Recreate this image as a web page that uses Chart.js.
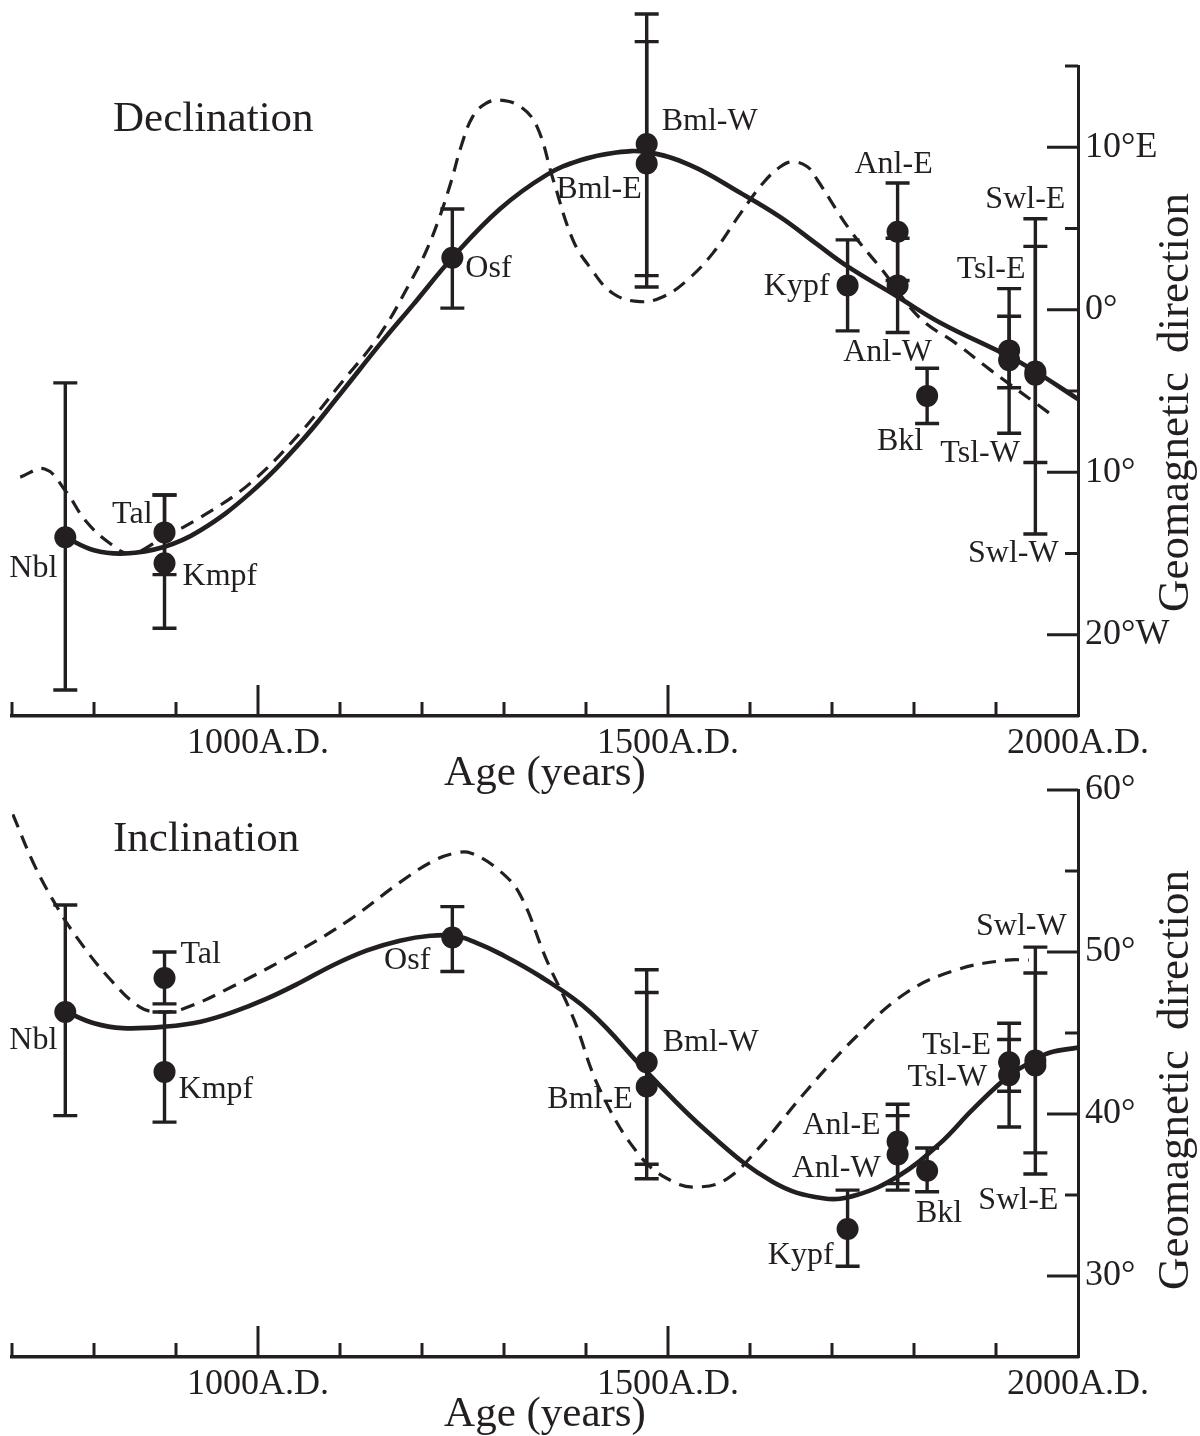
<!DOCTYPE html>
<html>
<head>
<meta charset="utf-8">
<script src="https://cdn.jsdelivr.net/npm/chart.js@4/dist/chart.umd.min.js"></script>
<style>
  html, body { margin: 0; padding: 0; background: #ffffff; overflow: hidden; }
  #wrap { position: relative; width: 1200px; height: 1436px; }
  .panel { position: absolute; left: 0; width: 1200px; }
</style>
</head>
<body>
<div id="wrap">
  <div class="panel" style="top:0;height:800px"><canvas id="decChart" width="1200" height="800"></canvas></div>
  <div class="panel" style="top:755px;height:681px"><canvas id="incChart" width="1200" height="681"></canvas></div>
</div>
<script>
// ---------------- DATA ----------------
const sites = ['Nbl', 'Tal', 'Kmpf', 'Osf', 'Bml-W', 'Bml-E', 'Kypf', 'Anl-E', 'Anl-W', 'Bkl', 'Tsl-E', 'Tsl-W', 'Swl-E', 'Swl-W'];
const siteYears = [765, 886, 886, 1237, 1474, 1474, 1719, 1780, 1780, 1816, 1916, 1916, 1948, 1948];

// Declination (deg, east positive)
const decValues = [-14.0, -13.7, -15.6, 3.2, 10.2, 9.0, 1.5, 4.8, 1.5, -5.3, -2.5, -3.1, -3.8, -4.0];
const decLow    = [-23.4, -16.3, -19.6, 0.1, 2.1, 1.4, -1.3, 1.8, -1.4, -7.0, -4.8, -7.6, -13.8, -9.4];
const decHigh   = [-4.5, -11.4, -11.4, 6.2, 18.2, 16.5, 4.3, 7.8, 4.4, -3.6, 1.3, -0.4, 5.6, 3.9];

// Inclination (deg)
const incValues = [46.3, 48.4, 42.6, 50.9, 43.2, 41.7, 32.9, 38.3, 37.5, 36.5, 43.2, 42.4, 43.0, 43.3];
const incLow    = [39.9, 46.8, 39.5, 48.8, 36.9, 36.0, 30.6, 35.7, 35.3, 35.2, 41.4, 39.2, 37.6, 36.3];
const incHigh   = [52.9, 50.0, 46.3, 52.8, 48.9, 47.5, 35.3, 40.6, 39.9, 37.9, 45.6, 44.6, 48.7, 50.3];

// Smoothed curve (solid) and reference curve (dashed)
const decSolidYears = [765, 800, 838, 885, 929, 990, 1051, 1100, 1149, 1189, 1237, 1295, 1352, 1393, 1433, 1474, 1527, 1588, 1637, 1680, 1718, 1780, 1832, 1913, 1945, 2000];
const decSolid      = [-14.0, -14.8, -15.0, -14.6, -13.6, -11.3, -8.2, -5.2, -2.1, 0.3, 3.2, 6.2, 8.3, 9.2, 9.65, 9.7, 8.9, 7.2, 5.7, 4.1, 2.7, 0.8, -0.8, -2.8, -3.7, -5.5];
const decDashedYears = [710, 740, 766, 790, 820, 845, 885, 929, 990, 1051, 1100, 1149, 1189, 1205, 1220, 1235, 1248, 1262, 1278, 1295, 1320, 1340, 1360, 1384, 1405, 1433, 1466, 1494, 1523, 1555, 1588, 1616, 1637, 1652, 1670, 1682, 1722, 1762, 1807, 1852, 1893, 1966];
const decDashed      = [-10.3, -9.8, -11.2, -13.0, -14.4, -15.0, -14.0, -12.8, -10.7, -7.6, -4.6, -1.5, 2.0, 3.6, 5.5, 7.8, 10.1, 11.9, 12.7, 12.9, 12.5, 11.3, 8.0, 4.3, 2.6, 1.0, 0.5, 0.8, 1.8, 3.5, 5.9, 7.8, 8.8, 9.1, 8.8, 8.0, 4.9, 2.4, -0.5, -2.1, -3.7, -6.4];

const incSolidYears = [766, 800, 835, 888, 930, 970, 1010, 1051, 1092, 1133, 1173, 1210, 1240, 1265, 1295, 1344, 1405, 1474, 1548, 1628, 1689, 1730, 1782, 1832, 1872, 1917, 1950, 1966, 2000];
const incSolid      = [46.3, 45.6, 45.3, 45.4, 45.7, 46.3, 47.1, 48.1, 49.2, 50.1, 50.7, 51.0, 51.0, 50.6, 49.9, 48.5, 46.3, 42.6, 38.9, 35.8, 34.8, 35.0, 36.2, 38.2, 40.3, 42.4, 43.4, 43.8, 44.1];
const incDashedYears = [701, 726, 750, 779, 820, 856, 880, 909, 970, 1051, 1112, 1173, 1213, 1240, 1260, 1295, 1320, 1352, 1384, 1417, 1466, 1507, 1539, 1572, 1609, 1670, 1730, 1791, 1852, 1913, 1940];
const incDashed      = [58.5, 55.5, 53.2, 50.9, 48.3, 46.6, 46.3, 46.5, 47.9, 50.1, 52.0, 54.3, 55.6, 56.1, 56.1, 55.0, 53.5, 49.5, 46.0, 41.5, 37.4, 35.8, 35.5, 36.0, 37.8, 41.5, 44.8, 47.5, 48.9, 49.5, 49.5];

// Tick labels
const xTickLabels = { 1000: '1000A.D.', 1500: '1500A.D.', 2000: '2000A.D.' };
const decTickLabels = { 10: '10°E', 0: '0°', '-10': '10°', '-20': '20°W' };
const incTickLabels = { 60: '60°', 50: '50°', 40: '40°', 30: '30°' };

// ---------------- STYLE ----------------
const INK = '#231f20';
const SERIF = '"Liberation Serif", "Times New Roman", Times, serif';

// label placement (pixel offsets from the point, text alignment) — styling only
const decLabelPlace = [
  ['right', -8, 31], ['right', -12, -18], ['left', 18, 13], ['left', 13, 11],
  ['left', 15, -22], ['right', -5, 26], ['right', -18, 1], ['center', -4, -67],
  ['center', -10, 67], ['center', -27, 46], ['center', -18, -81], ['center', -29, 93],
  ['center', -10, -172], ['center', -22, 179]
];
const incLabelPlace = [
  ['right', -8, 29], ['left', 16, -23], ['left', 14, 18], ['right', -22, 23],
  ['left', 16, -20], ['right', -14, 13], ['right', -14, 27], ['right', -17, -16],
  ['right', -17, 14], ['center', 12, 43], ['right', -18, -17], ['right', -22, 2],
  ['center', -17, 135], ['center', -14, -134]
];

function pairs(xs, ys) { return xs.map((x, i) => ({ x: x, y: ys[i] })); }

function buildChart(canvasId, spec) {
  const deco = {
    id: 'deco_' + canvasId,
    beforeDatasetsDraw(chart) {
      const ctx = chart.ctx, xs = chart.scales.x, ys = chart.scales.y;
      ctx.save();
      ctx.strokeStyle = INK;
      ctx.lineWidth = 3.4;
      ctx.lineCap = 'butt';
      for (let i = 0; i < sites.length; i++) {
        const px = xs.getPixelForValue(siteYears[i]);
        const pl = ys.getPixelForValue(spec.low[i]);
        const ph = ys.getPixelForValue(spec.high[i]);
        ctx.beginPath();
        ctx.moveTo(px, pl); ctx.lineTo(px, ph);
        ctx.moveTo(px - 12, pl); ctx.lineTo(px + 12, pl);
        ctx.moveTo(px - 12, ph); ctx.lineTo(px + 12, ph);
        ctx.stroke();
      }
      ctx.restore();
    },
    afterDraw(chart) {
      const ctx = chart.ctx, xs = chart.scales.x, ys = chart.scales.y, area = chart.chartArea;
      ctx.save();
      ctx.strokeStyle = INK;
      ctx.fillStyle = INK;
      ctx.lineWidth = 3;
      // inward x ticks
      xs.ticks.forEach(t => {
        if (t.value >= xs.max) return;
        const px = xs.getPixelForValue(t.value);
        const len = (t.value % 500 === 0) ? 31 : 14;
        ctx.beginPath();
        ctx.moveTo(px, area.bottom); ctx.lineTo(px, area.bottom - len);
        ctx.stroke();
      });
      // inward y ticks
      ys.ticks.forEach(t => {
        if (t.value <= ys.min) return;
        const py = ys.getPixelForValue(t.value);
        const len = (t.value % 10 === 0) ? 31 : 13;
        ctx.beginPath();
        ctx.moveTo(area.right, py); ctx.lineTo(area.right - len, py);
        ctx.stroke();
      });
      // site labels
      ctx.font = '32px ' + SERIF;
      ctx.textBaseline = 'middle';
      for (let i = 0; i < sites.length; i++) {
        const p = spec.place[i];
        const px = xs.getPixelForValue(siteYears[i]);
        const py = ys.getPixelForValue(spec.values[i]);
        ctx.textAlign = p[0];
        ctx.fillText(sites[i], px + p[1], py + p[2]);
      }
      // panel title
      ctx.font = '43px ' + SERIF;
      ctx.textAlign = 'left';
      ctx.textBaseline = 'alphabetic';
      ctx.fillText(spec.title, 113, spec.titleBaseline);
      // rotated axis title (two words, reading bottom to top)
      ctx.translate(1188, 0);
      ctx.rotate(-Math.PI / 2);
      ctx.font = '45px ' + SERIF;
      ctx.textBaseline = 'alphabetic';
      ctx.textAlign = 'left';
      ctx.fillText('Geomagnetic', -spec.yTitleStart, 0);
      ctx.textAlign = 'right';
      ctx.fillText('direction', -spec.yTitleEnd, 0);
      ctx.restore();
    }
  };

  return new Chart(document.getElementById(canvasId), {
    type: 'scatter',
    data: {
      datasets: [
        { type: 'line', label: 'solid', data: pairs(spec.solidYears, spec.solid), borderColor: INK, borderWidth: 4.6,
          pointRadius: 0, tension: 0.4, fill: false, order: 3 },
        { type: 'line', label: 'dashed', data: pairs(spec.dashedYears, spec.dashed), borderColor: INK, borderWidth: 3.2,
          borderDash: [14, 9], pointRadius: 0, tension: 0.4, fill: false, order: 2 },
        { type: 'scatter', label: 'sites', data: pairs(siteYears, spec.values), pointRadius: 11,
          backgroundColor: INK, borderWidth: 0, order: 1 }
      ]
    },
    options: {
      responsive: false,
      animation: false,
      events: [],
      layout: { padding: { left: 12, top: spec.padTop, right: 0, bottom: 0 } },
      plugins: { legend: { display: false }, tooltip: { enabled: false } },
      scales: {
        x: {
          type: 'linear', position: 'bottom', min: 700, max: 2000,
          grid: { display: true, drawOnChartArea: false, drawTicks: false },
          border: { display: true, width: 3.5, color: INK },
          ticks: {
            stepSize: 100, autoSkip: false, maxRotation: 0, padding: 6, color: INK,
            font: { family: SERIF, size: 36 },
            callback: v => xTickLabels[v] || ''
          },
          title: { display: true, text: 'Age (years)', color: INK, font: { family: SERIF, size: 43 },
                   padding: { top: 0, bottom: spec.xTitlePad } },
          afterFit: s => { s.height = spec.xScaleHeight; }
        },
        y: {
          type: 'linear', position: 'right', min: spec.yMin, max: spec.yMax,
          grid: { display: true, drawOnChartArea: false, drawTicks: false },
          border: { display: true, width: 3, color: INK },
          ticks: {
            stepSize: 5, autoSkip: false, padding: 7, color: INK,
            font: { family: SERIF, size: 36 },
            callback: v => spec.tickLabels[v] || ''
          },
          afterFit: s => { s.width = 122; }
        }
      }
    },
    plugins: [deco]
  });
}

buildChart('decChart', {
  values: decValues, low: decLow, high: decHigh,
  solidYears: decSolidYears, solid: decSolid, dashedYears: decDashedYears, dashed: decDashed,
  tickLabels: decTickLabels, place: decLabelPlace,
  yMin: -25, yMax: 15, padTop: 66, xScaleHeight: 84, xTitlePad: 0,
  title: 'Declination', titleBaseline: 131, yTitleStart: 612, yTitleEnd: 193
});

buildChart('incChart', {
  values: incValues, low: incLow, high: incHigh,
  solidYears: incSolidYears, solid: incSolid, dashedYears: incDashedYears, dashed: incDashed,
  tickLabels: incTickLabels, place: incLabelPlace,
  yMin: 25, yMax: 60, padTop: 35, xScaleHeight: 79, xTitlePad: -5,
  title: 'Inclination', titleBaseline: 851 - 755, yTitleStart: 1290 - 755, yTitleEnd: 870 - 755
});
</script>
</body>
</html>
